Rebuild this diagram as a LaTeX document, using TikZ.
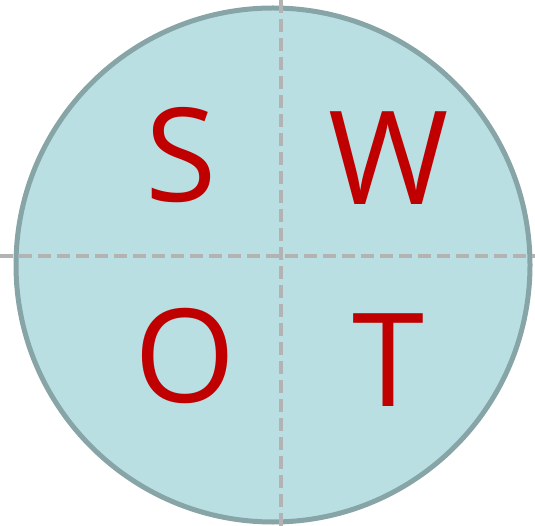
\documentclass[tikz,border=0pt]{standalone}
\usepackage{fontspec}
\setmainfont{Open Sans}
\definecolor{swotfill}{HTML}{B9DFE3}
\definecolor{swotrim}{HTML}{87A4A7}
\definecolor{swotdash}{HTML}{B3B3B3}
\definecolor{swotred}{HTML}{C00000}
\tikzset{
  quad/.style={text=swotred, inner sep=0pt, font=\fontsize{130}{130}\selectfont},
  split/.style={swotdash, line width=4.5pt, dash pattern=on 13pt off 6pt}
}
\begin{document}
\begin{tikzpicture}[x=1pt, y=-1pt]
    \useasboundingbox (0,0) rectangle (535,526);
    % Kreis
    \filldraw[fill=swotfill, draw=swotrim, line width=5pt] (273,265) circle (257);
    % Trennlinien
    \coordinate (top) at (281,0);
    \coordinate (bottom) at (281,526);
    \coordinate (left) at (0,256);
    \coordinate (right) at (535,256);
    \draw[split] (top) -- (bottom);
    \draw[split] (left) -- (right);
    % Buchstaben
    \node[quad] (s) at (181.5,155.5) {S};
    \node[quad] (w) at (389,158.5) {W};
    \node[quad] (o) at (185,356.5) {O};
    \node[quad] (t) at (388,360) {T};
\end{tikzpicture}
\end{document}
